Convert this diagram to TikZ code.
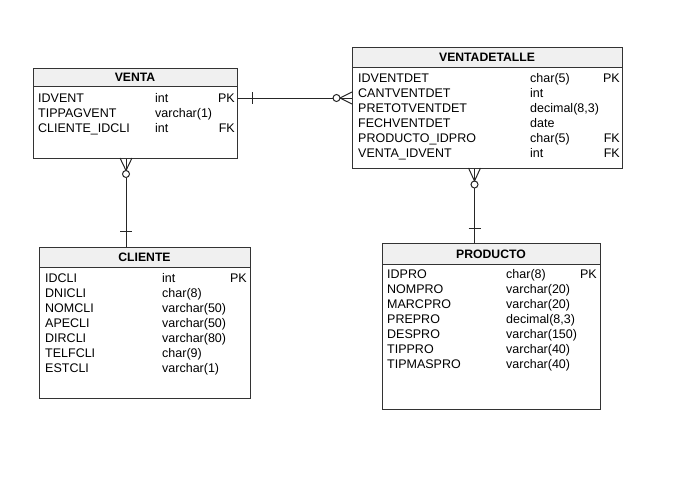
\documentclass[tikz,border=0pt]{standalone}
\usepackage{fontspec}
\setmainfont{Liberation Sans}
\begin{document}
\begin{tikzpicture}[x=1pt,y=-1pt,
  tbl/.style={draw=black!80,line width=1pt,inner sep=0pt,anchor=north west},
  hdr/.style={draw=black!80,fill=black!6,line width=1pt},
  ttl/.style={font=\fontsize{12.2}{14}\selectfont\bfseries,inner sep=0pt,anchor=base},
  fld/.style={font=\fontsize{12.5}{14}\selectfont,inner sep=0pt,anchor=base west},
  key/.style={font=\fontsize{12.5}{14}\selectfont,inner sep=0pt,anchor=base east},
  rel/.style={draw=black!85,line width=1pt}]
\useasboundingbox (0,0) rectangle (679,485);
% ---------- VENTA ----------
\node[tbl,minimum width=204pt,minimum height=90pt] (venta) at (33,68) {};
\draw[hdr] (33,68) rectangle (237,86);
\node[ttl] (ventaT) at (135,81.5) {VENTA};
\foreach \n/\t/\k [count=\i from 0] in {IDVENT/int/PK,TIPPAGVENT/varchar(1)/,CLIENTE\_IDCLI/int/FK}{
  \node[fld] (venta-a\i) at (38,102.5+15*\i) {\n};
  \node[fld] (venta-b\i) at (155,102.5+15*\i) {\t};
  \node[key] (venta-c\i) at (235,102.5+15*\i) {\k};
}
% ---------- VENTADETALLE ----------
\node[tbl,minimum width=270pt,minimum height=121pt] (vdet) at (352,47) {};
\draw[hdr] (352,47) rectangle (622,67);
\node[ttl] (vdetT) at (487,61.5) {VENTADETALLE};
\foreach \n/\t/\k [count=\i from 0] in {IDVENTDET/char(5)/PK,CANTVENTDET/int/,PRETOTVENTDET/decimal(8{,}3)/,FECHVENTDET/date/,PRODUCTO\_IDPRO/char(5)/FK,VENTA\_IDVENT/int/FK}{
  \node[fld] (vdet-a\i) at (358,82+15.1*\i) {\n};
  \node[fld] (vdet-b\i) at (530,82+15.1*\i) {\t};
  \node[key] (vdet-c\i) at (620,82+15.1*\i) {\k};
}
% ---------- CLIENTE ----------
\node[tbl,minimum width=211pt,minimum height=151pt] (cli) at (39,247) {};
\draw[hdr] (39,247) rectangle (250,267);
\node[ttl] (cliT) at (144.5,261.5) {CLIENTE};
\foreach \n/\t/\k [count=\i from 0] in {IDCLI/int/PK,DNICLI/char(8)/,NOMCLI/varchar(50)/,APECLI/varchar(50)/,DIRCLI/varchar(80)/,TELFCLI/char(9)/,ESTCLI/varchar(1)/}{
  \node[fld] (cli-a\i) at (45,282+15*\i) {\n};
  \node[fld] (cli-b\i) at (162,282+15*\i) {\t};
  \node[key] (cli-c\i) at (247,282+15*\i) {\k};
}
% ---------- PRODUCTO ----------
\node[tbl,minimum width=218pt,minimum height=166pt] (prod) at (382,243) {};
\draw[hdr] (382,243) rectangle (600,264);
\node[ttl] (prodT) at (491,258) {PRODUCTO};
\foreach \n/\t/\k [count=\i from 0] in {IDPRO/char(8)/PK,NOMPRO/varchar(20)/,MARCPRO/varchar(20)/,PREPRO/decimal(8{,}3)/,DESPRO/varchar(150)/,TIPPRO/varchar(40)/,TIPMASPRO/varchar(40)/}{
  \node[fld] (prod-a\i) at (387,278.5+15*\i) {\n};
  \node[fld] (prod-b\i) at (506,278.5+15*\i) {\t};
  \node[key] (prod-c\i) at (597,278.5+15*\i) {\k};
}
% ---------- relationships ----------
% VENTA -> VENTADETALLE
\coordinate (r1a) at (venta.north east |- 0,98);
\coordinate (r1b) at (vdet.north west |- 0,98);
\draw[rel] (r1a) -- (333,98);
\draw[rel] (252,92) -- (252,104);
\draw[rel] (336.5,98) circle (3.5);
\draw[rel] (340,98) -- (r1b);
\draw[rel] (340,98) -- (352,92);
\draw[rel] (340,98) -- (352,104);
% VENTA -> CLIENTE
\coordinate (r2a) at (cli.north west -| 126,0);
\coordinate (r2b) at (venta.south west -| 126,0);
\draw[rel] (r2a) -- (126,177.5);
\draw[rel] (120,231) -- (132,231);
\draw[rel] (126,174) circle (3.5);
\draw[rel] (126,170.5) -- (r2b);
\draw[rel] (126,170.5) -- (120,158);
\draw[rel] (126,170.5) -- (132,158);
% VENTADETALLE -> PRODUCTO
\coordinate (r3a) at (prod.north west -| 474.5,0);
\coordinate (r3b) at (vdet.south west -| 474.5,0);
\draw[rel] (r3a) -- (474.5,188);
\draw[rel] (468.5,228.5) -- (480.5,228.5);
\draw[rel] (474.5,184.5) circle (3.5);
\draw[rel] (474.5,181) -- (r3b);
\draw[rel] (474.5,181) -- (468.5,168);
\draw[rel] (474.5,181) -- (480.5,168);
\end{tikzpicture}
\end{document}
